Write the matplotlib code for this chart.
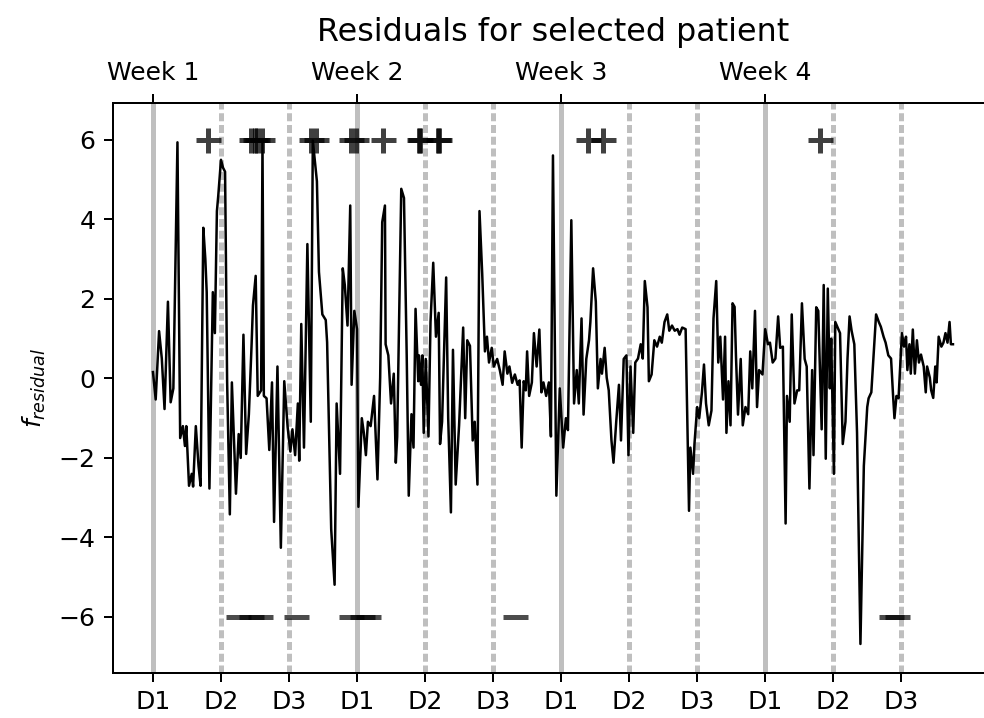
import matplotlib
matplotlib.use("Agg")
import matplotlib.pyplot as plt

# residual time series, time in days from start of week 1
t_days = [
    0.00, 0.04, 0.09, 0.13, 0.17, 0.22, 0.26, 0.30, 0.36, 0.40, 0.44, 0.47, 0.49, 0.53, 0.57, 0.59,
    0.63, 0.67, 0.70, 0.74, 0.77, 0.79, 0.83, 0.88, 0.91, 0.94, 0.96, 1.00, 1.03, 1.06, 1.09, 1.13,
    1.16, 1.22, 1.26, 1.29, 1.33, 1.37, 1.41, 1.45, 1.47, 1.51, 1.54, 1.59, 1.61, 1.63, 1.67, 1.71,
    1.75, 1.78, 1.83, 1.88, 1.93,
    1.98, 2.02, 2.05, 2.09, 2.13, 2.15, 2.18, 2.22, 2.27, 2.32, 2.35, 2.41, 2.44, 2.49, 2.54, 2.56,
    2.62, 2.67, 2.70, 2.75, 2.79, 2.82, 2.86, 2.90, 2.92, 2.96, 3.00, 3.02, 3.07, 3.10, 3.13, 3.16,
    3.20, 3.25, 3.30, 3.34, 3.37, 3.41, 3.42, 3.46, 3.50, 3.54, 3.57, 3.59, 3.65, 3.69, 3.73, 3.76,
    3.80, 3.83, 3.86, 3.90,
    3.91, 3.94, 3.96, 3.98, 4.01, 4.05, 4.08, 4.12, 4.16, 4.20, 4.22, 4.25, 4.31, 4.34, 4.38, 4.41,
    4.45, 4.50, 4.56, 4.59, 4.62, 4.66, 4.70, 4.73, 4.77, 4.80, 4.84, 4.88, 4.91, 4.94, 4.98, 5.01,
    5.06, 5.10, 5.14, 5.17, 5.21, 5.24, 5.28, 5.32, 5.36, 5.39, 5.42, 5.45, 5.48, 5.50, 5.53, 5.57,
    5.60, 5.64, 5.68, 5.71, 5.74, 5.78, 5.82, 5.85,
    5.88, 5.93, 5.98, 6.03, 6.07, 6.10, 6.15, 6.19, 6.23, 6.26, 6.30, 6.33, 6.37, 6.41, 6.43, 6.47,
    6.51, 6.54, 6.58, 6.60, 6.64, 6.67, 6.70, 6.74, 6.77, 6.81, 6.85, 6.88, 6.92, 6.96, 6.99, 7.02,
    7.06, 7.09, 7.13, 7.17, 7.20, 7.23, 7.27, 7.29, 7.33, 7.37, 7.41, 7.45, 7.48, 7.52, 7.56, 7.59,
    7.63, 7.67, 7.71, 7.74, 7.78, 7.83,
    7.88, 7.90, 7.94, 7.96, 8.00, 8.03, 8.07, 8.10, 8.13, 8.17, 8.21, 8.24, 8.28, 8.31, 8.34, 8.38,
    8.41, 8.43, 8.46, 8.49, 8.52, 8.55, 8.57, 8.60, 8.64, 8.67, 8.71, 8.75, 8.78, 8.81, 8.85, 8.88,
    8.91, 8.96, 9.00, 9.04, 9.07, 9.11, 9.15, 9.19, 9.22, 9.26, 9.30, 9.32, 9.36, 9.39, 9.43, 9.47,
    9.50, 9.54, 9.58, 9.61, 9.65, 9.69, 9.71, 9.75, 9.78, 9.83, 9.86,
    9.89, 9.92, 9.95, 9.97, 10.01, 10.03, 10.10, 10.14, 10.18, 10.21, 10.24, 10.27, 10.31, 10.35,
    10.40, 10.45, 10.50, 10.52, 10.56, 10.59, 10.63, 10.67, 10.70, 10.74, 10.77, 10.81, 10.85, 10.88,
    10.90, 10.93, 10.96, 10.99, 11.01, 11.04, 11.07, 11.09, 11.12, 11.14, 11.17, 11.20, 11.23, 11.26,
    11.29, 11.33, 11.36, 11.38, 11.42, 11.44, 11.47, 11.50, 11.52, 11.55, 11.59, 11.62, 11.65, 11.68,
    11.71, 11.73, 11.76,
]
resid = [
    0.16, -0.53, 1.19, 0.50, -0.77, 1.93, -0.60, -0.25, 5.94, -1.50, -1.20, -1.70, -1.20, -2.70, -2.40, -2.72,
    -1.20, -2.20, -2.70, 3.79, 3.00, 2.17, -2.77, 2.17, 1.14, 4.21, 4.60, 5.50, 5.30, 5.20, -0.07, -3.42,
    -0.10, -2.90, -1.40, -2.00, 1.10, -1.90, -0.90, 0.86, 1.84, 2.58, -0.44, -0.30, 5.94, -0.44, -0.50, -1.80,
    -0.10, -3.61, 0.30, -4.26, -0.07,
    -1.23, -1.84, -1.28, -1.93, -0.63, -2.07, 1.37, -1.74, 3.38, -1.09, 5.98, 4.96, 2.68, 1.61, 1.47, 0.91,
    -3.79, -5.19, -0.63, -2.40, 2.77, 2.35, 1.33, 4.35, -0.16, 1.70, 1.24, -3.23, -1.00, -1.37, -1.93, -1.09,
    -1.20, -0.44, -2.54, 0.02, 3.93, 4.35, 0.86, 0.58, -0.63, 0.12, -2.12, -1.47, 4.77, 4.54, 0.58, -2.95,
    -0.90, -1.74, 1.75, -0.07,
    0.58, -0.16, 0.58, -1.37, 0.49, -1.46, 1.42, 2.91, 1.05, 1.65, -1.65, -1.09, 2.54, -1.00, -3.37, 0.72,
    -2.67, -1.18, 1.28, -1.00, 0.96, 0.82, -1.56, -1.09, -2.67, 4.21, 2.63, 0.68, 1.05, 0.40, 0.77, 0.30,
    0.49, 0.20, -0.16, 0.68, 0.12, 0.30, -0.11, 0.10, -0.16, -0.05, -1.74, -0.07, -0.30, 0.68, -0.44, -0.10,
    1.14, 0.30, 1.23, -0.35, -0.10, -0.44, -0.10, -1.46,
    5.61, -2.95, -0.25, -1.74, -1.00, -1.30, 3.98, -0.63, 0.21, -0.63, 1.51, -0.91, 0.49, 0.96, 1.42, 2.77,
    1.93, -0.25, 0.49, 0.12, 0.77, 0.02, -0.30, -1.56, -2.12, -1.09, -0.16, -1.56, 0.49, 0.58, -1.93, 0.30,
    -1.37, 0.40, 0.50, 0.86, 0.50, 2.45, 1.79, -0.07, 0.10, 0.96, 0.80, 1.05, 0.90, 1.42, 1.61, 1.20,
    1.33, 1.20, 1.24, 1.10, 1.28, 1.24,
    -3.33, -1.74, -2.40, -1.65, -0.72, -1.00, -0.35, 0.35, -0.63, -1.18, -0.81, 1.51, 2.45, 0.40, 1.05, -0.53,
    1.05, -1.37, -0.07, -1.18, 1.89, 1.80, 0.58, -0.91, 0.49, -1.18, -0.72, -0.90, 0.68, -0.25, 1.70, -0.72,
    0.21, 0.10, 1.24, 0.86, 0.90, 0.40, 0.50, 1.56, 0.77, 0.80, -3.65, -0.44, -1.09, 1.61, -0.63, -0.30,
    -0.30, 1.89, 0.49, 0.30, -2.77, 0.21, -1.93, 1.79, 1.70, -1.28, 2.35,
    -2.02, 2.26, -0.25, 1.00, -2.40, 1.42, 1.14, -1.65, -1.09, 0.50, 1.56, 1.20, 0.86, -1.37,
    -6.68, -2.20, -0.72, -0.50, -0.35, 0.49, 1.61, 1.42, 1.30, 1.05, 0.90, 0.58, 0.50, -0.44,
    -1.00, -0.44, -0.50, 0.49, 1.14, 0.80, 1.05, 0.21, 0.86, 0.12, 1.23, 0.12, 0.96, 0.40,
    0.60, 0.30, -0.35, 0.30, 0.02, -0.30, -0.49, 0.30, -0.10, 1.05, 0.80, 0.90, 1.14, 0.90,
    1.42, 0.86, 0.86,
]

# flagged high / low residual times (days)
high_days = [0.81, 1.44, 1.50, 1.53, 1.60, 2.32, 2.39, 2.91, 2.98, 3.38, 3.91, 3.93, 4.19, 4.20, 6.40, 6.61, 9.80]
low_days = [1.25, 1.44, 1.57, 2.11, 2.91, 3.08, 3.16, 5.32, 10.85, 10.94]
high_level = 6
low_level = -6

day_ticks = list(range(12))
day_labels = ["D1", "D2", "D3"] * 4
week_ticks = [0, 3, 6, 9]
week_labels = ["Week 1", "Week 2", "Week 3", "Week 4"]

fig = plt.figure(figsize=(984 / 180, 718 / 180), dpi=180)
ax = fig.add_axes([0.1148, 0.0627, 0.8943, 0.7939])

for d in day_ticks:
    if d % 3 == 0:
        ax.axvline(d, color="0.75", lw=2, zorder=0)
    else:
        ax.axvline(d, color="0.75", lw=2, ls=(0, (1.6, 0.75)), zorder=0)

ax.plot(t_days, resid, color="k", lw=1.0)
ax.plot(high_days, [high_level] * len(high_days), ls="none", marker="+",
        color="k", ms=10, mew=2, alpha=0.75)
ax.plot(low_days, [low_level] * len(low_days), ls="none", marker="_",
        color="k", ms=10, mew=2, alpha=0.7)

ax.set_ylim(-7.41, 6.93)
ax.set_yticks([-6, -4, -2, 0, 2, 4, 6])
ax.set_xticks(day_ticks)
ax.set_xticklabels(day_labels)
ax.set_ylabel(r"$f_{residual}$")

ax2 = ax.twiny()
ax2.set_xlim(ax.get_xlim())
ax2.set_xticks(week_ticks)
ax2.set_xticklabels(week_labels)
ax2.set_title("Residuals for selected patient", fontsize=12.7, pad=8)

fig.savefig("out.png", dpi=180)
